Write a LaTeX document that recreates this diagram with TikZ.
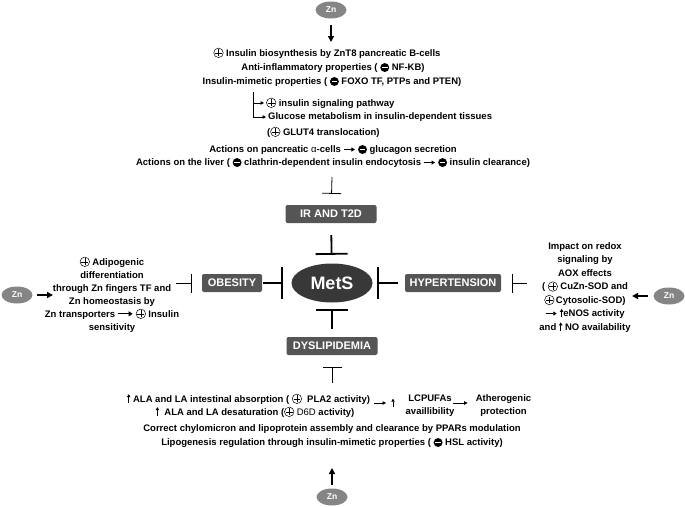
\documentclass[tikz,border=0pt]{standalone}
\usepackage{fontspec}
\setmainfont{Liberation Sans}
\usetikzlibrary{arrows.meta,shapes.geometric}
\definecolor{zngray}{HTML}{858585}
\definecolor{boxgray}{HTML}{555555}
\definecolor{metsgray}{HTML}{383838}
\newcommand\pls{\tikz[baseline=-0.36em]{\draw[line width=0.5pt] (0,0) circle (0.5em); \draw[line width=0.5pt] (-0.36em,0) -- (0.36em,0) (0,-0.36em) -- (0,0.36em);}}
\newcommand\mns{\tikz[baseline=-0.36em]{\fill (0,0) circle (0.47em); \fill[white] (-0.3em,-0.07em) rectangle (0.3em,0.07em);}}
\newcommand\larr{\tikz[baseline=-0.36em]{\draw[-{Triangle[length=4pt,width=5pt]},line width=1.2pt] (0,0) -- (1.5em,0);}}
\newcommand\rarr{\tikz[baseline=-0.36em]{\draw[-{Triangle[length=3.5pt,width=4pt]},line width=0.9pt] (0,0) -- (1.15em,0);}}
\newcommand\uarr{\tikz[baseline=0pt]{\draw[-{Triangle[length=3pt,width=3.5pt]},line width=0.75pt] (0,-0.05em) -- (0,0.85em);}}
\tikzset{
  zn/.style={ellipse, fill=zngray, text=white, minimum width=31pt, minimum height=17pt, inner sep=0pt, font=\fontsize{8.5}{10}\selectfont\bfseries},
  dis/.style={rectangle, rounded corners=2pt, fill=boxgray, text=white, minimum height=18pt, inner sep=0pt, font=\fontsize{11}{12}\selectfont\bfseries},
  mets/.style={ellipse, fill=metsgray, text=white, minimum width=81pt, minimum height=39pt, inner sep=0pt, font=\fontsize{18}{20}\selectfont\bfseries},
  txt/.style={inner sep=1pt, align=center, font=\fontsize{9.5}{13}\selectfont\bfseries},
  znarrow/.style={-{Triangle[length=6pt,width=6pt]}, line width=1.6pt},
  sarrow/.style={-{Triangle[length=3.5pt,width=3.5pt]}, line width=0.7pt},
  inh/.style={-{Bar[width=19pt]}, line width=0.8pt},
  inhbig/.style={-{Bar[width=32pt]}, line width=1.8pt},
}
\begin{document}
\begin{tikzpicture}[x=1pt,y=-1pt]
\useasboundingbox (0,0) rectangle (685,506);
% centre
\node[mets] (mets) at (332,283) {MetS};
\node[dis, minimum width=91pt] (ir) at (331,214) {IR AND T2D};
\node[dis, minimum width=60pt] (obe) at (232,283) {OBESITY};
\node[dis, minimum width=96pt] (hyp) at (453,283) {HYPERTENSION};
\node[dis, minimum width=91pt] (dys) at (332,346) {DYSLIPIDEMIA};
\draw[inhbig, shorten <=12pt, shorten >=8.5pt] (ir) -- (mets);
\draw[inhbig, shorten <=1pt, shorten >=8.5pt] (obe) -- (mets);
\draw[inhbig, shorten <=7pt, shorten >=4.5pt] (hyp) -- (mets);
\draw[inhbig, shorten <=8pt, shorten >=6.5pt] (dys) -- (mets);
% top
\node[zn] (zntop) at (331,10) {Zn};
\coordinate (topin) at (331,42);
\draw[znarrow, shorten <=6.5pt] (zntop) -- (topin);
\node[txt] (bios) at (327,53) {\pls\ Insulin biosynthesis by ZnT8 pancreatic B-cells};
\node[txt] (infl) at (333,68) {Anti-inflammatory properties ( \mns\ NF-KB)};
\node[txt] (mim) at (332,82) {Insulin-mimetic properties ( \mns\ FOXO TF, PTPs and PTEN)};
\coordinate (br) at (253,92);
\node[txt, inner sep=2pt, anchor=west] (sig) at (264,103) {\pls\ insulin signaling pathway};
\node[txt, inner sep=2pt, anchor=west] (glu) at (266,117) {Glucose metabolism in insulin-dependent tissues};
\node[txt, inner sep=2pt, anchor=west] (glut) at (265,132) {(\pls\ GLUT4 translocation)};
\draw[sarrow] (br) |- (sig.west);
\draw[sarrow] (br) |- (glu.west);
\node[txt] (panc) at (333,150) {Actions on pancreatic {\mdseries α}-cells \rarr\ \mns\ glucagon secretion};
\node[txt] (liv) at (333,163) {Actions on the liver ( \mns\ clathrin-dependent insulin endocytosis \rarr\ \mns\ insulin clearance)};
\coordinate (irin) at (332,177);
\draw[inh, shorten >=11pt] (irin) -- (ir);
% left
\node[zn] (znl) at (17,295) {Zn};
\coordinate (adin) at (53,295);
\draw[znarrow, shorten <=4.5pt] (znl) -- (adin);
\node[txt] (adipo) at (112,294.5) {\pls\ Adipogenic\\ differentiation\\ through Zn fingers TF and\\ Zn homeostasis by\\ Zn transporters \larr\ \pls\ Insulin\\ sensitivity};
\coordinate (obein) at (176,283);
\draw[inh, shorten >=10pt] (obein) -- (obe);
% right
\node[zn] (znr) at (669,296) {Zn};
\coordinate (redin) at (632,296);
\draw[znarrow, shorten <=5.5pt] (znr) -- (redin);
\node[txt, font=\fontsize{9.5}{13.5}\selectfont\bfseries] (redox) at (585,287.5) {Impact on redox\\ signaling by\\ AOX effects\\ ( \pls\ CuZn-SOD and\\ \pls\,Cytosolic-SOD)\\ \rarr\ \uarr eNOS activity\\ and \uarr\ NO availability};
\coordinate (hypin) at (527,283);
\draw[inh, shorten >=11pt] (hypin) -- (hyp);
% bottom
\coordinate (dysin) at (332,383);
\draw[inh, shorten >=12pt] (dysin) -- (dys);
\node[txt] (ala1) at (248.5,399) {\uarr\ ALA and LA intestinal absorption ( \pls\ \ PLA2 activity)};
\node[txt] (ala2) at (255,412) {\uarr\ \ ALA and LA desaturation (\pls\ {\mdseries D6D} activity)};
\node[txt] (upm) at (393,403) {\uarr};
\node[txt, font=\fontsize{9.5}{12.5}\selectfont\bfseries] (lcp) at (430,405.5) {LCPUFAs\\ availlibility};
\node[txt, font=\fontsize{9.5}{12.5}\selectfont\bfseries] (ath) at (503.5,405.5) {Atherogenic\\ protection};
\draw[sarrow, shorten <=3pt, shorten >=4pt] (ala1.east |- upm) -- (upm.west);
\draw[sarrow, shorten <=-2pt, shorten >=7pt] (lcp.east |- upm) -- (ath.west |- upm);
\node[txt] (chyl) at (332,429) {Correct chylomicron and lipoprotein assembly and clearance by PPARs modulation};
\node[txt] (lipo) at (332,443) {Lipogenesis regulation through insulin-mimetic properties ( \mns\ HSL activity)};
\node[zn] (znb) at (332,497) {Zn};
\coordinate (lipoin) at (332,468);
\draw[znarrow, shorten <=3.5pt] (znb) -- (lipoin);
\end{tikzpicture}
\end{document}
